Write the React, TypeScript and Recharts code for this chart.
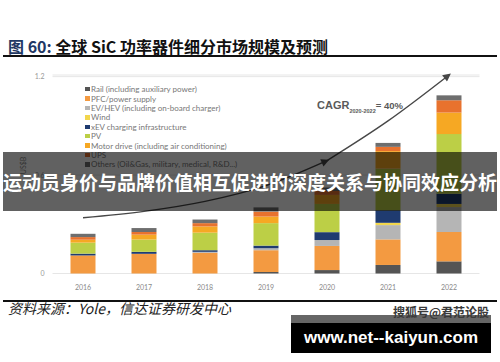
import React from 'react';
import { ComposedChart, Bar, Line, XAxis, YAxis, CartesianGrid, Label } from 'recharts';

const years = ['2016', '2017', '2018', '2019', '2020', '2021', '2022'];
const rail = [0, 0, 0, 0.009, 0.021, 0.052, 0.074];
const pfc = [0.11, 0.12, 0.126, 0.133, 0.147, 0.156, 0.179];
const evhev = [0, 0, 0.006, 0.012, 0.036, 0.087, 0.152];
const wind = [0, 0, 0, 0, 0, 0.014, 0.019];
const xev = [0.011, 0.012, 0.01, 0.016, 0.048, 0.077, 0.062];
const pv = [0.067, 0.075, 0.107, 0.137, 0.172, 0.253, 0.364];
const motor = [0.018, 0.03, 0.038, 0.04, 0.055, 0.107, 0.131];
const ups = [0.016, 0.016, 0.02, 0.03, 0.024, 0.026, 0.075];
const others = [0.02, 0.024, 0.022, 0.026, 0.021, 0.024, 0.03];

const trendA = [0.34, 0.379, 0.44, 0.536, 0.688, null, null];
const trendB = [null, null, null, null, 0.688, 0.93, 1.21];

const yTicks = [0, 0.6, 1.2];

const seriesKeys = ['rail', 'pfc', 'evhev', 'wind', 'xev', 'pv', 'motor', 'ups', 'others'];
const seriesNames = [
  'Rail (including auxiliary power)',
  'PFC/power supply',
  'EV/HEV (including on-board charger)',
  'Wind',
  'xEV charging infrastructure',
  'PV',
  'Motor drive (including air conditioning)',
  'UPS',
  'Others (Oil&Gas, military, medical, R&D...)',
];
const seriesColors = ['#545454', '#F39A41', '#B5B5B5', '#F2D64C', '#1F3B70', '#BCCF46', '#F6A823', '#E8722E', '#6E6E6E'];
const seriesValues = [rail, pfc, evhev, wind, xev, pv, motor, ups, others];

const data = years.map((y, i) => {
  const row: any = { year: y, trendA: trendA[i], trendB: trendB[i] };
  seriesKeys.forEach((k, j) => {
    row[k] = seriesValues[j][i];
  });
  return row;
});

const LEGEND_FONT = 'Lato, "Noto Sans", sans-serif';
const CJK = '"Noto Sans CJK SC", sans-serif';

export default function App() {
  return (
    <div style={{ position: 'absolute', left: 0, top: 0, width: 500, height: 362, background: '#fff', overflow: 'hidden', fontFamily: LEGEND_FONT }}>
      <svg width={0} height={0} style={{ position: 'absolute' }}>
        <defs>
          <marker id="arrowHead" viewBox="0 0 10 10" refX="7" refY="5" markerWidth="9" markerHeight="8" orient="auto" markerUnits="userSpaceOnUse">
            <path d="M0,0 L10,5 L0,10 z" fill="#474747" />
          </marker>
        </defs>
      </svg>

      {/* title */}
      <div style={{ position: 'absolute', left: 8, top: 38, fontFamily: CJK, fontWeight: 700, fontSize: 16, lineHeight: '17px', whiteSpace: 'nowrap', color: '#111' }}>
        <span style={{ color: '#1F3864' }}>图 60:</span>
        <span>  全球 SiC 功率器件细分市场规模及预测</span>
      </div>
      <div style={{ position: 'absolute', left: 3, top: 54.5, width: 494, height: 2, background: '#111' }} />

      <div style={{ position: 'absolute', left: 0, top: 0 }}>
        <ComposedChart width={500} height={362} data={data} margin={{ top: 75, right: 20.5, bottom: 58.5, left: 0 }}>
          <CartesianGrid vertical={false} stroke="#E6E6E6" />
          <XAxis
            dataKey="year"
            axisLine={false}
            tickLine={false}
            height={30}
            tickMargin={6}
            tick={{ fontSize: 7, fill: '#8a8a8a', fontFamily: LEGEND_FONT }}
          />
          <YAxis
            width={52.5}
            domain={[0, 1.2]}
            ticks={yTicks}
            axisLine={false}
            tickLine={false}
            tick={{ fontSize: 7, fill: '#999', fontFamily: LEGEND_FONT }}
          >
            <Label value="US$B" angle={-90} position="insideLeft" offset={24} style={{ fontSize: 7, fill: '#888', fontFamily: LEGEND_FONT }} />
          </YAxis>
          {seriesKeys.map((k, j) => (
            <Bar key={k} dataKey={k} stackId="a" fill={seriesColors[j]} barSize={25} isAnimationActive={false} />
          ))}
          <Line dataKey="trendA" type="monotone" stroke="#474747" strokeWidth={1.4} dot={false} activeDot={false} connectNulls={false} markerEnd="url(#arrowHead)" isAnimationActive={false} />
          <Line dataKey="trendB" type="monotone" stroke="#474747" strokeWidth={1.4} dot={false} activeDot={false} connectNulls={false} markerEnd="url(#arrowHead)" isAnimationActive={false} />
        </ComposedChart>
      </div>

      {/* legend */}
      <div style={{ position: 'absolute', left: 85, top: 84.5 }}>
        {seriesNames.map((n, j) => (
          <div key={n} style={{ display: 'flex', alignItems: 'center', height: 9.4, fontSize: 8, color: '#777', whiteSpace: 'nowrap' }}>
            <span style={{ display: 'inline-block', width: 4.5, height: 4.5, background: seriesColors[j], marginRight: 1.5 }} />
            <span>{n}</span>
          </div>
        ))}
      </div>

      {/* CAGR annotation */}
      <div style={{ position: 'absolute', left: 317, top: 95, whiteSpace: 'nowrap', color: '#5a5a5a', fontWeight: 700, fontFamily: '"Liberation Sans", sans-serif' }}>
        <span style={{ fontSize: 11 }}>CAGR</span>
        <span style={{ fontSize: 5.5, verticalAlign: 'sub' }}>2020-2022</span>
        <span style={{ fontSize: 9.5 }}>= 40%</span>
      </div>

      {/* banner overlay */}
      <div style={{ position: 'absolute', left: 3, top: 152, width: 494, height: 59, background: 'rgba(0,0,0,0.62)', color: '#fff', fontFamily: CJK, fontWeight: 700, fontSize: 19, lineHeight: '59px', textAlign: 'center', whiteSpace: 'nowrap' }}>
        运动员身价与品牌价值相互促进的深度关系与协同效应分析
      </div>

      {/* bottom rule and source */}
      <div style={{ position: 'absolute', left: 3, top: 299.5, width: 494, height: 2, background: '#111' }} />
      <div style={{ position: 'absolute', left: 8, top: 301, fontFamily: CJK, fontStyle: 'italic', fontSize: 14, lineHeight: '15px', color: '#222', whiteSpace: 'nowrap' }}>
        资料来源：Yole，信达证券研发中心
      </div>

      {/* watermark box */}
      <div style={{ position: 'absolute', left: 291, top: 315, width: 200, height: 8, background: '#666' }} />
      <div style={{ position: 'absolute', left: 291, top: 322.5, width: 200, height: 30.5, background: '#000', color: '#fff', fontFamily: '"Liberation Sans", sans-serif', fontWeight: 700, fontSize: 17, lineHeight: '30px', textAlign: 'center', whiteSpace: 'nowrap' }}>
        www.net--kaiyun.com
      </div>
      <div style={{ position: 'absolute', left: 393, top: 305, fontFamily: CJK, fontWeight: 700, fontSize: 12, lineHeight: '13px', color: '#3a3a3a', whiteSpace: 'nowrap' }}>
        搜狐号@君范论股
      </div>
    </div>
  );
}
